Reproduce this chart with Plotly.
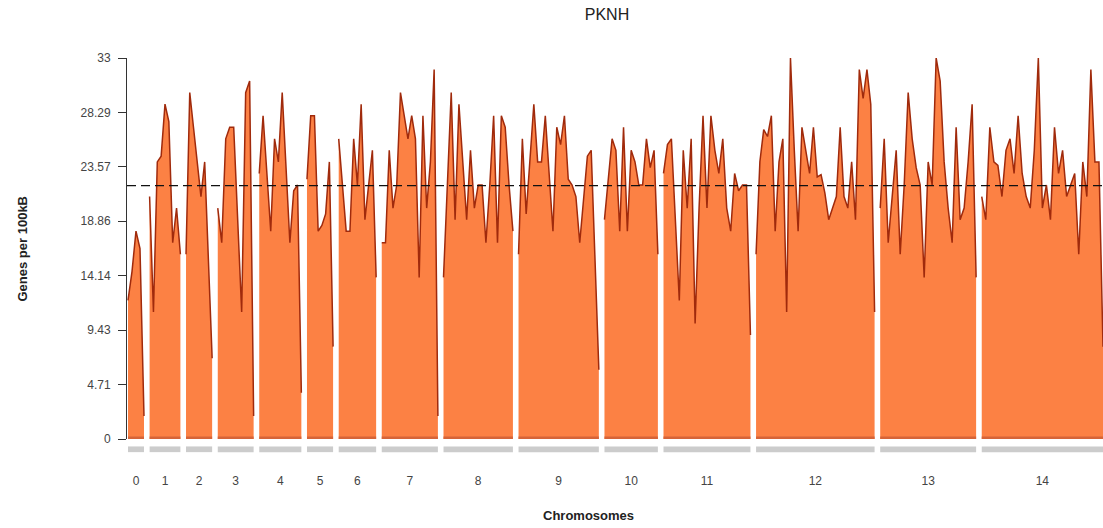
import plotly.graph_objects as go

# ---------------- data ----------------
chrom_names = ["0", "1", "2", "3", "4", "5", "6", "7", "8", "9", "10", "11", "12", "13", "14"]
# approximate chromosome lengths (Mb) and spacing between chromosomes on the axis
chrom_len_mb = [0.41, 0.79, 0.67, 0.92, 1.08, 0.67, 0.96, 1.44, 1.78, 2.06, 1.37, 2.23,
                3.04, 2.46, 3.11]
gap_mb = 0.144

chr0 = [12, 14.5, 18, 16.5, 2]
chr1 = [21, 11, 24, 24.5, 29, 27.5, 17, 20, 16]
chr2 = [16, 30, 27, 24, 21, 24, 15.5, 7]
chr3 = [20, 17, 26, 27, 27, 19, 11, 30, 31, 2]
chr4 = [23, 28, 23, 18, 26, 24, 30, 23, 17, 21.5, 22, 4]
chr5 = [22.5, 28, 28, 18, 18.5, 19.5, 24, 8]
chr6 = [26, 22, 18, 18, 26, 22, 29, 19, 22, 25, 14]
chr7 = [17, 17, 25, 20, 22, 30, 28, 26, 28, 26, 14, 28, 20, 24, 32, 2]
chr8 = [14, 22, 30, 19, 29, 24, 19, 25, 20, 22, 22, 17, 22, 28, 17, 28, 27, 22, 18]
chr9 = [16, 26, 19.5, 24.5, 29, 24, 24, 28, 23, 18, 27, 25.5, 28, 22.5, 22, 21, 17, 20.5,
        24.5, 25, 16, 6]
chr10 = [19, 22.5, 26, 25, 18, 27, 18, 25, 24, 22, 22, 26, 23.5, 25, 16]
chr11 = [23, 25.5, 26, 19, 12, 25, 20, 26, 10, 20, 28, 20, 28, 25, 23, 26, 20, 18, 23,
         21.5, 22, 22, 9]
chr12 = [16, 24, 26.8, 26.2, 28, 18, 24, 26, 11, 33, 25, 18, 27, 25, 23, 27, 22.7, 22.9,
         21.3, 19, 20, 21, 27, 21, 20, 24, 19, 32, 29.5, 32, 29, 11]
chr13 = [20, 26, 17, 21, 25, 16, 22, 30, 26, 23.5, 22, 14, 24, 22, 33, 31, 24, 20, 17, 27,
         19, 20, 24, 29, 14]
chr14 = [21, 19, 27, 24, 23.7, 21, 25, 26, 23, 28, 23, 21, 20, 25, 33, 20, 22, 19, 27, 23,
         25, 21, 22, 23, 16, 24, 21, 32, 24, 24, 8]

mean_density = 21.95
y_tick_vals = [0, 4.71, 9.43, 14.14, 18.86, 23.57, 28.29, 33]
y_tick_text = ["0", "4.71", "9.43", "14.14", "18.86", "23.57", "28.29", "33"]

series = [chr0, chr1, chr2, chr3, chr4, chr5, chr6, chr7, chr8, chr9, chr10, chr11,
          chr12, chr13, chr14]

# ---------------- styling ----------------
FILL = "rgb(252,129,68)"
LINE = "rgb(160,42,12)"
BASE = "rgb(214,100,56)"
GREY_BAR = "rgb(204,204,204)"
FONT = "Liberation Sans, Arial, sans-serif"

fig = go.Figure()
shapes = []
centers = []
start = 0.0
for name, vals, length in zip(chrom_names, series, chrom_len_mb):
    step = length / (len(vals) - 1)
    xs = [start + i * step for i in range(len(vals))]
    fig.add_trace(go.Scatter(
        x=xs, y=vals, mode="lines", fill="tozeroy", fillcolor=FILL,
        line=dict(color=LINE, width=1.5), hoverinfo="skip", showlegend=False))
    fig.add_trace(go.Scatter(
        x=[xs[0], xs[-1]], y=[0, 0], mode="lines",
        line=dict(color=BASE, width=5), hoverinfo="skip", showlegend=False))
    shapes.append(dict(type="rect", xref="x", yref="paper",
                       x0=xs[0], x1=xs[-1], y0=-0.0345, y1=-0.0195,
                       fillcolor=GREY_BAR, line=dict(width=0), layer="above"))
    centers.append((xs[0] + xs[-1]) / 2)
    start = xs[-1] + gap_mb
x_end = start - gap_mb

shapes.append(dict(type="line", xref="paper", yref="y", x0=0, x1=1,
                   y0=mean_density, y1=mean_density,
                   line=dict(color="#111111", width=1.4, dash="9px,5px"), layer="above"))

fig.update_layout(
    width=1103, height=528,
    margin=dict(l=127, r=0, t=58, b=89),
    paper_bgcolor="white", plot_bgcolor="white",
    font=dict(family=FONT, color="#444444", size=12),
    title=dict(text="PKNH", x=607 / 1103, xanchor="center", xref="container",
               y=1 - 14 / 528, yanchor="middle", yref="container",
               font=dict(size=16, color="#222222", family=FONT)),
    shapes=shapes,
    xaxis=dict(range=[-x_end / 975, x_end], showgrid=False, zeroline=False, showline=False,
               tickvals=centers, ticktext=chrom_names, ticks="",
               tickfont=dict(size=12, color="#444444"), ticklabelstandoff=33,
               fixedrange=True),
    yaxis=dict(range=[0, 33], showgrid=False, zeroline=False, showline=True,
               linecolor="#333333", linewidth=1, ticks="outside", ticklen=8,
               tickcolor="#333333", tickvals=y_tick_vals, ticktext=y_tick_text,
               tickfont=dict(size=12, color="#444444"), ticklabelstandoff=5,
               fixedrange=True),
    annotations=[
        dict(text="<b>Chromosomes</b>", xref="paper", yref="paper",
             x=(588 - 127) / 976, y=-(515 - 439) / 381, xanchor="center", yanchor="middle",
             showarrow=False, font=dict(size=13, color="#222222", family=FONT)),
        dict(text="<b>Genes per 100kB</b>", xref="paper", yref="paper",
             x=-(127 - 22) / 976, y=0.5, xanchor="center", yanchor="middle",
             textangle=-90, showarrow=False,
             font=dict(size=13, color="#222222", family=FONT)),
    ],
)

fig.write_html("out.html")
